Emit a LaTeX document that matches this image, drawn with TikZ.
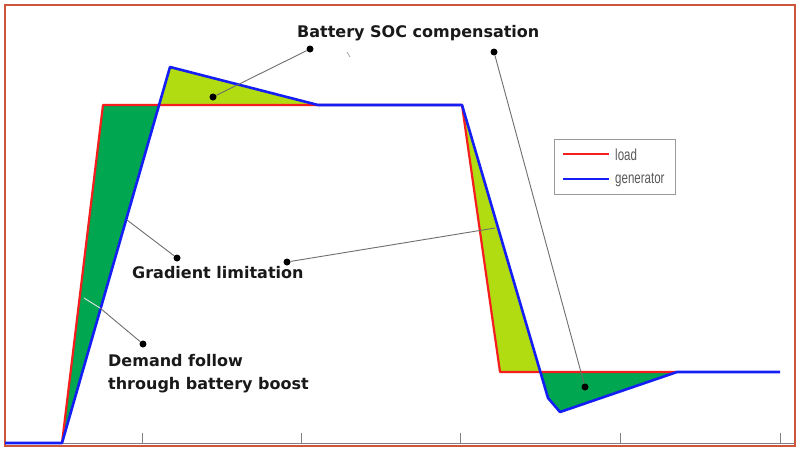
\documentclass[tikz,border=0pt]{standalone}
\usepackage{fontspec}
\setmainfont{Liberation Sans}
\newfontfamily\lblfont{DejaVu Sans}
\definecolor{loadred}{RGB}{245,30,30}
\definecolor{genblue}{RGB}{20,30,245}
\definecolor{darkgreen}{RGB}{0,166,80}
\definecolor{lightgreen}{RGB}{178,220,18}
\definecolor{framecol}{RGB}{205,85,60}
\definecolor{leadgray}{RGB}{110,110,110}
\begin{document}
\begin{tikzpicture}[x=1pt,y=-1pt,
  load/.style={draw=loadred, line width=2.2pt, line join=round},
  gen/.style={draw=genblue, line width=2.6pt, line join=round},
  leader/.style={draw=leadgray, line width=0.9pt},
  dot/.style={circle, fill=black, inner sep=0pt, minimum size=7pt},
  lbl/.style={font=\lblfont\bfseries\fontsize{16}{23}\selectfont, text=black!90, inner sep=0pt},
  legtext/.style={font=\fontsize{16}{18}\selectfont, text=black!65, inner sep=0pt, anchor=west}]
\useasboundingbox (0,0) rectangle (800,453);
\fill[white] (0,0) rectangle (800,453);
% fills
\fill[darkgreen] (103,105) -- (159,105) -- (62,443) -- cycle;
\fill[lightgreen] (159,105) -- (170,67) -- (318,105) -- cycle;
\fill[lightgreen] (462,105) -- (500,372) -- (541,372) -- cycle;
\fill[darkgreen] (541,372) -- (548,398) -- (560,412) -- (677,372) -- cycle;
% axis and ticks
\draw[gray, line width=1pt] (5,443) -- (795,443);
\foreach \x in {142,301,460,620,780} \draw[gray, line width=1pt] (\x,443) -- (\x,433);
% frame
\draw[framecol, line width=1.5pt] (5,5) rectangle (795,446);
% curves
\draw[load] (62,443) -- (103,105) -- (462,105) -- (500,372) -- (677,372);
\draw[gen] (5,443) -- (62,443) -- (170,67) -- (318,105) -- (462,105) -- (548,398) -- (560,412) -- (677,372) -- (780,372);
% small stray mark
\draw[gray!70, line width=0.8pt] (347,52) -- (350,57);
% legend
\node[draw=gray!80, line width=1.2pt, fill=white, minimum width=121pt, minimum height=55pt, inner sep=0pt, anchor=north west] (legend) at (554,139) {};
\coordinate (l1a) at (563,154); \coordinate (l1b) at (609,154);
\coordinate (l2a) at (563,179); \coordinate (l2b) at (609,179);
\draw[load] (l1a) -- (l1b);
\draw[gen] (l2a) -- (l2b);
\node[legtext] (tload) at (615,155) {\scalebox{0.72}[1]{load}};
\node[legtext] (tgen) at (615,180) {\scalebox{0.72}[1]{generator}};
% labels
\node[lbl, anchor=base west] (soc) at (297,37) {Battery SOC compensation};
\node[lbl, anchor=base west] (grad) at (132,278) {Gradient limitation};
\node[lbl, anchor=base west, align=left] (dem1) at (108,366) {Demand follow};
\node[lbl, anchor=base west, align=left] (dem2) at (108,389) {through battery boost};
% dots and leaders
\node[dot] (d1) at (310,49) {};
\node[dot] (d2) at (213,97) {};
\node[dot] (d3) at (494,52) {};
\node[dot] (d4) at (585,387) {};
\node[dot] (d5) at (177,258) {};
\node[dot] (d6) at (287,262) {};
\node[dot] (d7) at (143,344) {};
\coordinate (e5) at (127,220);
\coordinate (e6) at (495,228);
\coordinate (e7a) at (84,298);
\coordinate (e7b) at (100,308);
\draw[leader] (d1) -- (d2);
\draw[leader] (d3) -- (d4);
\draw[leader] (e5) -- (d5);
\draw[leader] (d6) -- (e6);
\draw[white!80!gray, line width=0.9pt] (e7a) -- (e7b);
\draw[leader] (e7b) -- (d7);
\end{tikzpicture}
\end{document}
